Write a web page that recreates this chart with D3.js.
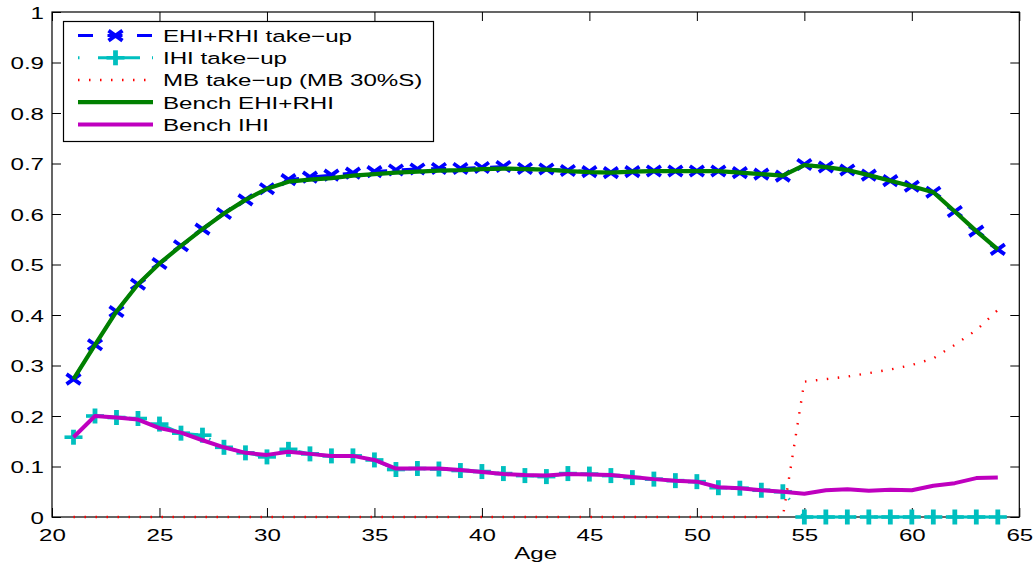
<!DOCTYPE html>
<html>
<head>
<meta charset="utf-8">
<script src="https://cdn.jsdelivr.net/npm/d3@7"></script>
<style>
  html, body { margin: 0; padding: 0; background: #fff; }
  svg { display: block; }
  text { font-family: "Liberation Sans", Arial, sans-serif; font-size: 17px; fill: #000; }
</style>
</head>
<body>
<svg id="chart" width="1035" height="569"></svg>
<script>
// Age grid of the simulation
const ages = [21, 22, 23, 24, 25, 26, 27, 28, 29, 30, 31, 32, 33, 34, 35, 36, 37, 38, 39, 40,
              41, 42, 43, 44, 45, 46, 47, 48, 49, 50, 51, 52, 53, 54, 55, 56, 57, 58, 59, 60,
              61, 62, 63, 64];

// Take-up rates by age
const ehiRhiTakeup = [0.273, 0.341, 0.407, 0.461, 0.502, 0.537, 0.570, 0.601, 0.628, 0.650,
                      0.668, 0.673, 0.677, 0.681, 0.684, 0.687, 0.689, 0.690, 0.690, 0.692,
                      0.694, 0.690, 0.689, 0.686, 0.684, 0.682, 0.684, 0.685, 0.685, 0.685,
                      0.685, 0.682, 0.679, 0.675, 0.698, 0.693, 0.687, 0.677, 0.666, 0.655,
                      0.643, 0.605, 0.566, 0.530];
const ihiTakeup = [0.158, 0.200, 0.197, 0.195, 0.184, 0.166, 0.162, 0.138, 0.127, 0.119,
                   0.134, 0.125, 0.121, 0.121, 0.113, 0.094, 0.096, 0.095, 0.092, 0.090,
                   0.086, 0.082, 0.080, 0.086, 0.085, 0.082, 0.078, 0.075, 0.072, 0.070,
                   0.058, 0.057, 0.053, 0.050, 0, 0, 0, 0, 0, 0,
                   0, 0, 0, 0];
const mbTakeup = [0, 0, 0, 0, 0, 0, 0, 0, 0, 0,
                  0, 0, 0, 0, 0, 0, 0, 0, 0, 0,
                  0, 0, 0, 0, 0, 0, 0, 0, 0, 0,
                  0, 0, 0, 0, 0.268, 0.273, 0.278, 0.285, 0.292, 0.301,
                  0.314, 0.341, 0.370, 0.410];
const benchEhiRhi = [0.273, 0.341, 0.407, 0.461, 0.502, 0.537, 0.570, 0.601, 0.628, 0.650,
                     0.664, 0.668, 0.671, 0.676, 0.679, 0.682, 0.684, 0.686, 0.687, 0.689,
                     0.690, 0.689, 0.688, 0.685, 0.683, 0.682, 0.684, 0.685, 0.685, 0.685,
                     0.685, 0.682, 0.679, 0.676, 0.697, 0.693, 0.687, 0.677, 0.666, 0.655,
                     0.643, 0.605, 0.566, 0.530];
const benchIhi = [0.158, 0.200, 0.197, 0.193, 0.176, 0.167, 0.152, 0.138, 0.127, 0.123,
                  0.129, 0.125, 0.121, 0.121, 0.113, 0.096, 0.096, 0.096, 0.093, 0.089,
                  0.085, 0.083, 0.082, 0.085, 0.084, 0.083, 0.079, 0.075, 0.072, 0.070,
                  0.059, 0.057, 0.053, 0.050, 0.046, 0.053, 0.055, 0.052, 0.054, 0.053,
                  0.062, 0.067, 0.077, 0.078];

// Axis ticks and labels
const xTicks = [20, 25, 30, 35, 40, 45, 50, 55, 60, 65];
const yTicks = [0, 0.1, 0.2, 0.3, 0.4, 0.5, 0.6, 0.7, 0.8, 0.9, 1];
const yTickLabels = ["0", "0.1", "0.2", "0.3", "0.4", "0.5", "0.6", "0.7", "0.8", "0.9", "1"];
const xLabel = "Age";
const legendLabels = ["EHI+RHI take\u2212up", "IHI take\u2212up", "MB take\u2212up (MB 30%S)",
                      "Bench EHI+RHI", "Bench IHI"];

const svg = d3.select("#chart");
const plotLeft = 52, plotRight = 1019.3, plotTop = 12, plotBottom = 517;
const textStretch = "scale(1.42,1)";

const x = d3.scaleLinear().domain([20, 65]).range([plotLeft, plotRight]);
const y = d3.scaleLinear().domain([0, 1]).range([plotBottom, plotTop]);

// Series styles
const series = [
  { key: "ehi", values: ehiRhiTakeup, color: "#0000ff", width: 3, dash: "15,14.5", marker: "x" },
  { key: "ihi", values: ihiTakeup, color: "#00bfbf", width: 3, dash: "1.5,18.5,42,12", marker: "plus" },
  { key: "mb", values: mbTakeup, color: "#ff0000", width: 2.4, dash: "1.5,9.5", marker: null },
  { key: "benchEhi", values: benchEhiRhi, color: "#008000", width: 4.2, dash: null, marker: null },
  { key: "benchIhi", values: benchIhi, color: "#bf00bf", width: 4, dash: null, marker: null }
];

const line = d3.line().x(d => x(d[0])).y(d => y(d[1]));

function drawMarker(g, type, color) {
  if (type === "x") {
    g.append("path").attr("d", "M-7,-5L7,5M-7,5L7,-5")
      .attr("stroke", color).attr("stroke-width", 3.8).attr("fill", "none");
  } else if (type === "plus") {
    g.append("path").attr("d", "M-9,0H9")
      .attr("stroke", color).attr("stroke-width", 3.6).attr("fill", "none");
    g.append("path").attr("d", "M0,-7.5V7.5")
      .attr("stroke", color).attr("stroke-width", 4.8).attr("fill", "none");
  }
}

// Axes: inward ticks on all four sides
const gx = svg.append("g").attr("transform", `translate(0,${plotBottom})`)
  .call(d3.axisBottom(x).tickValues(xTicks).tickSize(-9).tickSizeOuter(0).tickFormat(d => String(d)));
gx.selectAll("text").attr("y", null).attr("dy", null)
  .attr("transform", `translate(0,24) ${textStretch}`).attr("text-anchor", "middle");

const gy = svg.append("g").attr("transform", `translate(${plotLeft},0)`)
  .call(d3.axisLeft(y).tickValues(yTicks).tickSize(-9).tickSizeOuter(0)
    .tickFormat((d, i) => yTickLabels[i]));
gy.selectAll("text").attr("x", null).attr("dy", null)
  .attr("transform", `translate(-8,6) ${textStretch}`).attr("text-anchor", "end");

svg.append("g").attr("transform", `translate(0,${plotTop})`)
  .call(d3.axisTop(x).tickValues(xTicks).tickSize(-9).tickSizeOuter(0).tickFormat(""));
svg.append("g").attr("transform", `translate(${plotRight},0)`)
  .call(d3.axisRight(y).tickValues(yTicks).tickSize(-9).tickSizeOuter(0).tickFormat(""));

svg.selectAll(".domain").remove();
svg.selectAll(".tick line").attr("stroke", "#000").attr("stroke-width", 1);
svg.selectAll(".tick text").style("font-size", "17px")
  .style("font-family", "'Liberation Sans', Arial, sans-serif").attr("fill", "#000");

svg.append("rect").attr("x", plotLeft).attr("y", plotTop)
  .attr("width", plotRight - plotLeft).attr("height", plotBottom - plotTop)
  .attr("fill", "none").attr("stroke", "#000").attr("stroke-width", 1.2);

svg.append("text").attr("text-anchor", "middle")
  .attr("transform", `translate(${(plotLeft + plotRight) / 2},559) ${textStretch}`)
  .text(xLabel);

// Series lines and markers
const plot = svg.append("g");
series.forEach(s => {
  const pts = ages.map((a, i) => [a, s.values[i]]);
  const path = plot.append("path").datum(pts).attr("d", line)
    .attr("fill", "none").attr("stroke", s.color).attr("stroke-width", s.width)
    .attr("stroke-linejoin", "round");
  if (s.dash) path.attr("stroke-dasharray", s.dash);
  if (s.marker) {
    pts.forEach(p => {
      const g = plot.append("g").attr("transform", `translate(${x(p[0])},${y(p[1])})`);
      drawMarker(g, s.marker, s.color);
    });
  }
});

// Legend
const lg = svg.append("g");
lg.append("rect").attr("x", 63.5).attr("y", 21.5).attr("width", 370).attr("height", 120)
  .attr("fill", "#fff").attr("stroke", "#000").attr("stroke-width", 1.2);
series.forEach((s, i) => {
  const cy = 35.6 + i * 22.2;
  const l = lg.append("line").attr("x1", 78).attr("x2", 153).attr("y1", cy).attr("y2", cy)
    .attr("stroke", s.color).attr("stroke-width", s.width);
  if (s.dash) l.attr("stroke-dasharray", s.dash);
  if (s.marker) {
    const g = lg.append("g").attr("transform", `translate(115.5,${cy})`);
    drawMarker(g, s.marker, s.color);
  }
  lg.append("text").attr("transform", `translate(163,${cy + 6.3}) ${textStretch}`)
    .text(legendLabels[i]);
});
</script>
</body>
</html>
